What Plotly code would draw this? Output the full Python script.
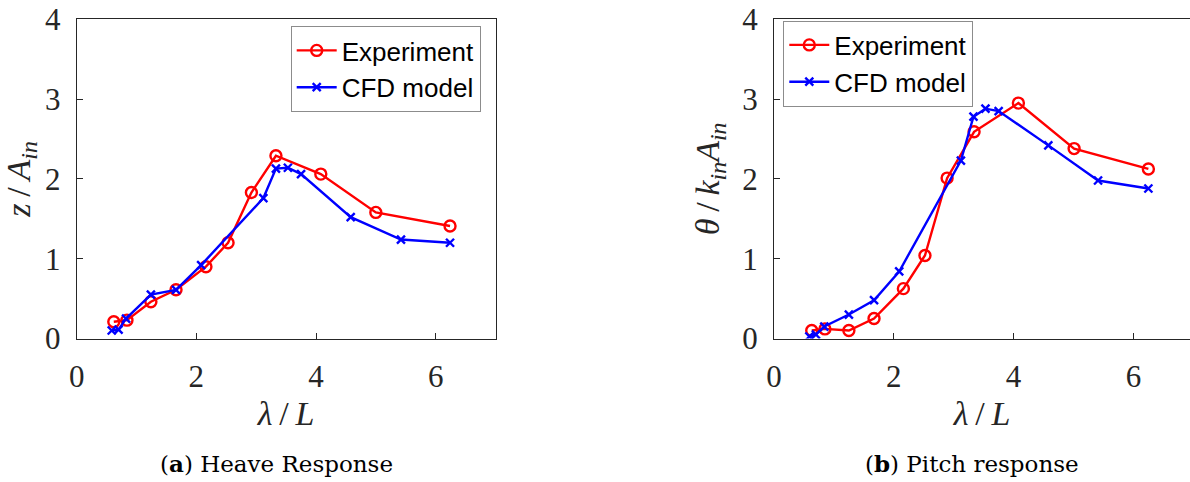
import plotly.graph_objects as go

# Non-dimensional wavelength and response amplitudes
heave_exp_x = [0.62, 0.84, 1.24, 1.66, 2.16, 2.53, 2.92, 3.33, 4.08, 5.00, 6.24]
heave_exp_y = [0.21, 0.23, 0.46, 0.61, 0.90, 1.20, 1.83, 2.29, 2.06, 1.58, 1.41]
heave_cfd_x = [0.585, 0.70, 0.825, 1.24, 1.66, 2.08, 3.12, 3.33, 3.53, 3.75, 4.58, 5.42, 6.24]
heave_cfd_y = [0.10, 0.11, 0.25, 0.55, 0.61, 0.92, 1.76, 2.13, 2.14, 2.06, 1.52, 1.24, 1.20]

pitch_exp_x = [0.63, 0.85, 1.25, 1.67, 2.16, 2.52, 2.89, 3.34, 4.08, 5.01, 6.25]
pitch_exp_y = [0.10, 0.12, 0.10, 0.25, 0.625, 1.04, 2.01, 2.59, 2.95, 2.38, 2.125]
pitch_cfd_x = [0.59, 0.70, 0.84, 1.25, 1.67, 2.09, 3.12, 3.33, 3.53, 3.75, 4.58, 5.41, 6.25]
pitch_cfd_y = [0.025, 0.05, 0.15, 0.30, 0.48, 0.84, 2.23, 2.78, 2.88, 2.85, 2.42, 1.98, 1.88]

x_ticks = [0, 2, 4, 6]
y_ticks = [0, 1, 2, 3, 4]

RED = "#ff0000"
BLUE = "#0000ff"
AXIS = "#262626"
W, H = 1190, 482
SP = "\u2009"  # thin space around the slash, as in typeset math

exp_style = dict(mode="lines+markers", line=dict(color=RED, width=2.4),
                 marker=dict(symbol="circle-open", size=11, color=RED,
                             line=dict(color=RED, width=2.4)))
cfd_style = dict(mode="lines+markers", line=dict(color=BLUE, width=2.4),
                 marker=dict(symbol="x-thin-open", size=8, color=BLUE,
                             line=dict(color=BLUE, width=2.4)))

fig = go.Figure()
fig.add_trace(go.Scatter(x=heave_exp_x, y=heave_exp_y, name="Experiment",
                         xaxis="x", yaxis="y", legend="legend", **exp_style))
fig.add_trace(go.Scatter(x=heave_cfd_x, y=heave_cfd_y, name="CFD model",
                         xaxis="x", yaxis="y", legend="legend", **cfd_style))
fig.add_trace(go.Scatter(x=pitch_exp_x, y=pitch_exp_y, name="Experiment",
                         xaxis="x2", yaxis="y2", legend="legend2", **exp_style))
fig.add_trace(go.Scatter(x=pitch_cfd_x, y=pitch_cfd_y, name="CFD model",
                         xaxis="x2", yaxis="y2", legend="legend2", **cfd_style))

tick_font = dict(family="Liberation Serif", size=31, color=AXIS)
title_font = dict(family="Liberation Serif", size=34, color=AXIS)


def px_x(p):
    return p / W


def px_y(p):
    return 1 - p / H


common_axis = dict(showline=True, linecolor=AXIS, linewidth=1, ticks="inside",
                   ticklen=6, tickcolor=AXIS, tickwidth=1, showgrid=False,
                   zeroline=False, tickfont=tick_font, automargin=False)

y_dom = [px_y(338.5), px_y(19.3)]
x_title = f"<i>λ</i>{SP}/{SP}<i>L</i>"

fig.update_layout(
    width=W, height=H,
    margin=dict(l=0, r=0, t=0, b=0),
    plot_bgcolor="white", paper_bgcolor="white",
    xaxis=dict(domain=[px_x(76.7), px_x(495.5)], range=[0, 7], tickvals=x_ticks,
               anchor="y", mirror=True, ticklabelstandoff=10,
               title=dict(text=x_title, font=title_font, standoff=8),
               **common_axis),
    yaxis=dict(domain=y_dom, range=[0, 4], tickvals=y_ticks, anchor="x",
               mirror=True, ticklabelstandoff=9,
               title=dict(text=f"<i>z</i>{SP}/{SP}<i>A</i><sub><i>in</i></sub>",
                          font=title_font, standoff=12),
               **common_axis),
    xaxis2=dict(domain=[px_x(774), 1.0], range=[0, (W - 774) / 59.9],
                tickvals=x_ticks, anchor="y2", mirror=True, ticklabelstandoff=10,
                title=dict(text=x_title, font=title_font, standoff=8),
                **common_axis),
    yaxis2=dict(domain=y_dom, range=[0, 4], tickvals=y_ticks, anchor="x2",
                mirror=False, ticklabelstandoff=9,
                title=dict(text=f"<i>θ</i>{SP}/{SP}<i>k</i><sub><i>in</i></sub><i>A</i><sub><i>in</i></sub>",
                           font=title_font, standoff=12),
                **common_axis),
    # right-hand ticks of the pitch panel (its frame runs past the page edge)
    yaxis3=dict(overlaying="y2", side="right", anchor="x2", range=[0, 4],
                tickvals=y_ticks, showticklabels=False, showline=False,
                ticks="inside", ticklen=4, tickcolor=AXIS, showgrid=False,
                zeroline=False),
    legend=dict(x=px_x(290.7), y=px_y(26), xanchor="left", yanchor="top",
                bgcolor="white", bordercolor="#8c8c8c", borderwidth=1,
                font=dict(family="Liberation Sans", size=26, color="black"),
                tracegroupgap=0, itemwidth=40),
    legend2=dict(x=px_x(783.3), y=px_y(20.5), xanchor="left", yanchor="top",
                 bgcolor="white", bordercolor="#8c8c8c", borderwidth=1,
                 font=dict(family="Liberation Sans", size=26, color="black"),
                 tracegroupgap=0, itemwidth=40),
    showlegend=True,
)

caption_font = dict(family="DejaVu Serif", size=23, color="black")
fig.add_annotation(text="(<b>a</b>) Heave Response", xref="paper", yref="paper",
                   x=px_x(276), y=px_y(463), xanchor="center", yanchor="middle",
                   showarrow=False, font=caption_font)
fig.add_annotation(text="(<b>b</b>) Pitch response", xref="paper", yref="paper",
                   x=px_x(972), y=px_y(463), xanchor="center", yanchor="middle",
                   showarrow=False, font=caption_font)

fig.write_html("out.html")
